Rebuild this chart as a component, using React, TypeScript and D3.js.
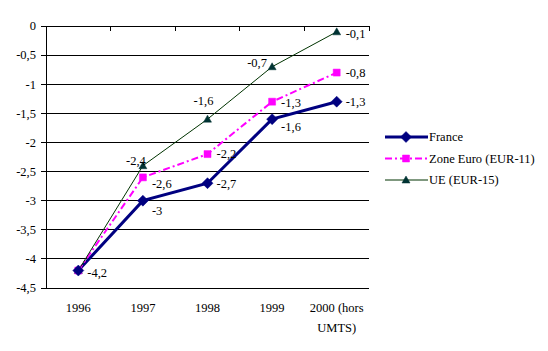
import React from 'react';
import * as d3 from 'd3';

const categories = ['1996', '1997', '1998', '1999', '2000 (hors UMTS)'];
const franceValues = [-4.2, -3, -2.7, -1.6, -1.3];
const euroValues = [-4.2, -2.6, -2.2, -1.3, -0.8];
const ueValues = [-4.2, -2.4, -1.6, -0.7, -0.1];
const yTicks = [0, -0.5, -1, -1.5, -2, -2.5, -3, -3.5, -4, -4.5];

// label offsets (dx, dy, anchor) relative to each point
const franceLabelPos = [[9, 2, 'start'], [9, 10, 'start'], [9, 0, 'start'], [9, 7, 'start'], [9, 0, 'start']];
const euroLabelPos = [null, [9, 6, 'start'], [9, 0, 'start'], [9, 1, 'start'], [9, 0, 'start']];
const ueLabelPos = [null, [-7, -5, 'middle'], [-4, -19, 'middle'], [-15, -4, 'middle'], [9, 2, 'start']];

const W = 548;
const H = 351;
const margin = { left: 46, right: 179, top: 26, bottom: 63 };
const FONT = "'Liberation Serif', 'DejaVu Serif', 'Times New Roman', serif";

const fmt = (v: number) => String(v).replace('.', ',');

const diamond = 'M0,-5.5L5.5,0L0,5.5L-5.5,0Z';
const square = 'M-3.5,-3.5H3.5V3.5H-3.5Z';
const triangle = 'M0,-4L4,3H-4Z';

const series = [
  { name: 'France', values: franceValues, color: '#000080', width: 3, dash: null, marker: diamond, fill: '#000080', labels: franceLabelPos },
  { name: 'Zone Euro (EUR-11)', values: euroValues, color: '#ff00ff', width: 2, dash: '7,3,2,3', marker: square, fill: '#ff00ff', labels: euroLabelPos },
  { name: 'UE (EUR-15)', values: ueValues, color: '#003300', width: 1, dash: null, marker: triangle, fill: '#003333', labels: ueLabelPos },
];

export default function App() {
  const x = d3
    .scaleBand<string>()
    .domain(categories)
    .range([margin.left, W - margin.right])
    .paddingInner(0)
    .paddingOuter(0);
  const y = d3.scaleLinear().domain([0, -4.5]).range([margin.top, H - margin.bottom]);
  const cx = (c: string) => (x(c) as number) + x.bandwidth() / 2;

  const line = d3
    .line<number>()
    .x((_, i) => cx(categories[i]))
    .y((d) => y(d));

  const boundaries = categories.map((c) => x(c) as number).concat([W - margin.right]);

  return (
    <svg width={W} height={H} style={{ position: 'absolute', left: 0, top: 0, fontFamily: FONT, fontSize: '12.5px' }}>
      <rect width={W} height={H} fill="#fff" />
      {/* gridlines */}
      {yTicks.map((t) => (
        <line key={t} x1={margin.left} x2={W - margin.right} y1={y(t)} y2={y(t)} stroke="#000" strokeWidth={1} shapeRendering="crispEdges" />
      ))}
      {/* y axis */}
      <line x1={margin.left} x2={margin.left} y1={y(0)} y2={y(-4.5)} stroke="#000" shapeRendering="crispEdges" />
      {yTicks.map((t) => (
        <g key={'yt' + t}>
          <line x1={margin.left - 5} x2={margin.left} y1={y(t)} y2={y(t)} stroke="#000" shapeRendering="crispEdges" />
          <text x={36} y={y(t)} dy="0.35em" textAnchor="end">{fmt(t)}</text>
        </g>
      ))}
      {/* x axis at zero */}
      {boundaries.map((b, i) => (
        <line key={'xt' + i} x1={b} x2={b} y1={y(0)} y2={y(0) + 5} stroke="#000" shapeRendering="crispEdges" />
      ))}
      {categories.map((c) => {
        const parts = c === '2000 (hors UMTS)' ? ['2000 (hors', 'UMTS)'] : [c];
        return (
          <text key={c} x={cx(c)} y={312} textAnchor="middle">
            {parts.map((p, i) => (
              <tspan key={i} x={cx(c)} dy={i === 0 ? 0 : 20}>{p}</tspan>
            ))}
          </text>
        );
      })}
      {/* series lines */}
      {series.map((s) => (
        <path key={s.name} d={line(s.values) as string} fill="none" stroke={s.color} strokeWidth={s.width} strokeDasharray={s.dash ?? undefined} />
      ))}
      {/* markers, UE first so France stays on top */}
      {[...series].reverse().map((s) =>
        s.values.map((v, i) => (
          <path key={s.name + i} d={s.marker} transform={`translate(${cx(categories[i])},${y(v)})`} fill={s.fill} stroke={s.fill} strokeWidth={0.5} />
        ))
      )}
      {series.map((s) =>
        s.values.map((v, i) => {
          const pos = s.labels[i];
          if (!pos) return null;
          return (
            <text
              key={'l' + s.name + i}
              x={cx(categories[i]) + (pos[0] as number)}
              y={y(v) + (pos[1] as number)}
              dy="0.35em"
              textAnchor={pos[2] as string}
            >
              {fmt(v)}
            </text>
          );
        })
      )}
      {/* legend */}
      {series.map((s, i) => {
        const ly = 137 + i * 21.5;
        return (
          <g key={'lg' + s.name}>
            <line x1={385} x2={428} y1={ly} y2={ly} stroke={s.color} strokeWidth={s.width} strokeDasharray={s.dash ?? undefined} />
            <path d={s.marker} transform={`translate(406,${ly})`} fill={s.fill} stroke={s.fill} strokeWidth={0.5} />
            <text x={429} y={ly} dy="0.35em">{s.name}</text>
          </g>
        );
      })}
    </svg>
  );
}
